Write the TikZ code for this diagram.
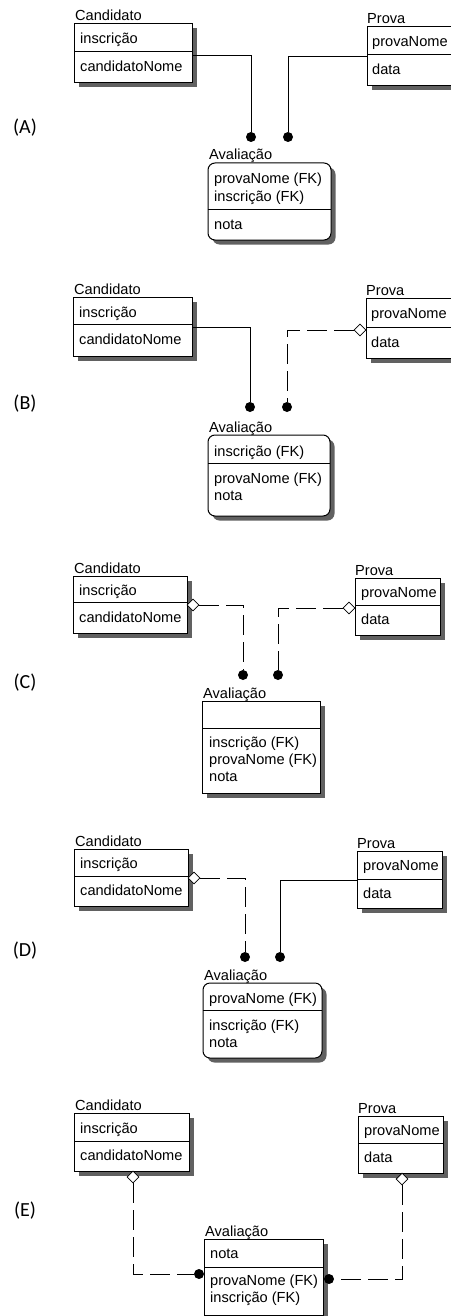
\documentclass[tikz,border=0pt]{standalone}
\usepackage{fontspec}
\setmainfont{Liberation Sans}
\newfontfamily\panelfont{Carlito}
\usetikzlibrary{shapes.geometric,shadows}
\newcommand\entfont{\fontsize{14.6}{17}\selectfont}
\begin{document}
\begin{tikzpicture}[x=1pt,y=-1pt,
  ent/.style={draw, line width=1pt, fill=white, inner sep=0pt, outer sep=0pt, anchor=north west,
    drop shadow={shadow xshift=4.5pt, shadow yshift=-4.5pt, fill=black!62, opacity=1}},
  depent/.style={ent, rounded corners=7pt},
  txt/.style={anchor=base west, inner sep=0pt, font=\entfont},
  dot/.style={circle, fill=black, inner sep=0pt, minimum size=10pt},
  dmd/.style={diamond, draw, fill=white, line width=0.8pt, inner sep=0pt, minimum width=12pt, minimum height=12pt},
  rel/.style={line width=1pt},
  nid/.style={rel, dash pattern=on 20pt off 7pt},
  plabel/.style={font=\panelfont\fontsize{20}{24}\selectfont, inner sep=0pt},
  sep/.style={line width=1pt}]
\useasboundingbox (0,0) rectangle (450,1316);
\fill[white] (0,0) rectangle (450,1316);

% ---------------- (A) ----------------
\node[plabel] (pA) at (25,128) {(A)};
\node[ent, minimum width=118pt, minimum height=59pt] (cA) at (74,24) {};
\draw[sep] (cA.west |- 0,52) -- (cA.east |- 0,52);
\node[txt] (cAn) at (75,21) {Candidato};
\node[txt] (cA1) at (80,44) {inscrição};
\node[txt] (cA2) at (80,72) {candidatoNome};
\node[ent, minimum width=85pt, minimum height=59pt] (pvA) at (367,27) {};
\draw[sep] (pvA.west |- 0,55) -- (pvA.east |- 0,55);
\node[txt] (pvAn) at (367,24) {Prova};
\node[txt] (pvA1) at (372,47) {provaNome};
\node[txt] (pvA2) at (372,75) {data};
\node[depent, minimum width=123pt, minimum height=77pt] (aA) at (208,163) {};
\draw[sep] (aA.west |- 0,209) -- (aA.east |- 0,209);
\node[txt] (aAn) at (209,160) {Avaliação};
\node[txt] (aA1) at (214,184) {provaNome (FK)};
\node[txt] (aA2) at (214,201) {inscrição (FK)};
\node[txt] (aA3) at (214,229) {nota};
\node[dot] (dA1) at (251,137) {};
\node[dot] (dA2) at (288,137) {};
\draw[rel] (cA.east |- 0,56) -| (dA1);
\draw[rel] (pvA.west |- 0,57) -| (dA2);

% ---------------- (B) ----------------
\node[plabel] (pB) at (25,404) {(B)};
\node[ent, minimum width=119pt, minimum height=59pt] (cB) at (73,297) {};
\draw[sep] (cB.west |- 0,324) -- (cB.east |- 0,324);
\node[txt] (cBn) at (74,294) {Candidato};
\node[txt] (cB1) at (79,317) {inscrição};
\node[txt] (cB2) at (79,344) {candidatoNome};
\node[ent, minimum width=85pt, minimum height=60pt] (pvB) at (366,298) {};
\draw[sep] (pvB.west |- 0,327) -- (pvB.east |- 0,327);
\node[txt] (pvBn) at (366,295) {Prova};
\node[txt] (pvB1) at (371,318) {provaNome};
\node[txt] (pvB2) at (371,347) {data};
\node[depent, minimum width=122pt, minimum height=81pt] (aB) at (208,435) {};
\draw[sep] (aB.west |- 0,463) -- (aB.east |- 0,463);
\node[txt] (aBn) at (209,432) {Avaliação};
\node[txt] (aB1) at (214,456) {inscrição (FK)};
\node[txt] (aB2) at (214,483) {provaNome (FK)};
\node[txt] (aB3) at (214,500) {nota};
\node[dot] (dB1) at (250,407) {};
\node[dot] (dB2) at (287,407) {};
\node[dmd] (mB) at (360,330) {};
\draw[rel] (cB.east |- 0,327) -| (dB1);
\draw[nid] (mB.west) -| (dB2);

% ---------------- (C) ----------------
\node[plabel] (pC) at (25,683) {(C)};
\node[ent, minimum width=114pt, minimum height=57pt] (cC) at (73,576) {};
\draw[sep] (cC.west |- 0,602) -- (cC.east |- 0,602);
\node[txt] (cCn) at (74,573) {Candidato};
\node[txt] (cC1) at (79,595) {inscrição};
\node[txt] (cC2) at (79,622) {candidatoNome};
\node[ent, minimum width=85pt, minimum height=57pt] (pvC) at (355,578) {};
\draw[sep] (pvC.west |- 0,605) -- (pvC.east |- 0,605);
\node[txt] (pvCn) at (355,575) {Prova};
\node[txt] (pvC1) at (361,597) {provaNome};
\node[txt] (pvC2) at (361,624) {data};
\node[ent, minimum width=118pt, minimum height=92pt] (aC) at (202,701) {};
\draw[sep] (aC.west |- 0,728) -- (aC.east |- 0,728);
\node[txt] (aCn) at (203,698) {Avaliação};
\node[txt] (aC1) at (209,747) {inscrição (FK)};
\node[txt] (aC2) at (209,764) {provaNome (FK)};
\node[txt] (aC3) at (209,781) {nota};
\node[dot] (dC1) at (243,675) {};
\node[dot] (dC2) at (278,675) {};
\node[dmd] (mC1) at (193,605) {};
\node[dmd] (mC2) at (349,608) {};
\draw[nid] (mC1.east) -| (dC1);
\draw[nid] (mC2.west) -| (dC2);

% ---------------- (D) ----------------
\node[plabel] (pD) at (25,951) {(D)};
\node[ent, minimum width=114pt, minimum height=57pt] (cD) at (74,849) {};
\draw[sep] (cD.west |- 0,876) -- (cD.east |- 0,876);
\node[txt] (cDn) at (75,846) {Candidato};
\node[txt] (cD1) at (80,868) {inscrição};
\node[txt] (cD2) at (80,895) {candidatoNome};
\node[ent, minimum width=85pt, minimum height=57pt] (pvD) at (357,851) {};
\draw[sep] (pvD.west |- 0,879) -- (pvD.east |- 0,879);
\node[txt] (pvDn) at (357,848) {Prova};
\node[txt] (pvD1) at (363,870) {provaNome};
\node[txt] (pvD2) at (363,898) {data};
\node[depent, minimum width=119pt, minimum height=75pt] (aD) at (203,983) {};
\draw[sep] (aD.west |- 0,1010) -- (aD.east |- 0,1010);
\node[txt] (aDn) at (204,980) {Avaliação};
\node[txt] (aD1) at (209,1003) {provaNome (FK)};
\node[txt] (aD2) at (209,1030) {inscrição (FK)};
\node[txt] (aD3) at (209,1047) {nota};
\node[dot] (dD1) at (245,957) {};
\node[dot] (dD2) at (280,957) {};
\node[dmd] (mD) at (194,878) {};
\draw[nid] (mD.east) -| (dD1);
\draw[rel] (pvD.west |- 0,880) -| (dD2);

% ---------------- (E) ----------------
\node[plabel] (pE) at (25,1211) {(E)};
\node[ent, minimum width=115pt, minimum height=58pt] (cE) at (74,1113) {};
\draw[sep] (cE.west |- 0,1141) -- (cE.east |- 0,1141);
\node[txt] (cEn) at (75,1110) {Candidato};
\node[txt] (cE1) at (80,1133) {inscrição};
\node[txt] (cE2) at (80,1160) {candidatoNome};
\node[ent, minimum width=85pt, minimum height=57pt] (pvE) at (358,1116) {};
\draw[sep] (pvE.west |- 0,1143) -- (pvE.east |- 0,1143);
\node[txt] (pvEn) at (358,1113) {Prova};
\node[txt] (pvE1) at (364,1135) {provaNome};
\node[txt] (pvE2) at (364,1162) {data};
\node[ent, minimum width=119pt, minimum height=76pt] (aE) at (204,1239) {};
\draw[sep] (aE.west |- 0,1267) -- (aE.east |- 0,1267);
\node[txt] (aEn) at (205,1236) {Avaliação};
\node[txt] (aE1) at (210,1258) {nota};
\node[txt] (aE2) at (210,1285) {provaNome (FK)};
\node[txt] (aE3) at (210,1302) {inscrição (FK)};
\node[dmd] (mE1) at (133,1177) {};
\node[dmd] (mE2) at (402,1179) {};
\node[dot] (dE1) at (199,1274) {};
\node[dot] (dE2) at (329,1279) {};
\draw[nid] (mE1.south) |- (dE1);
\draw[nid] (mE2.south) |- (dE2);
\end{tikzpicture}
\end{document}
